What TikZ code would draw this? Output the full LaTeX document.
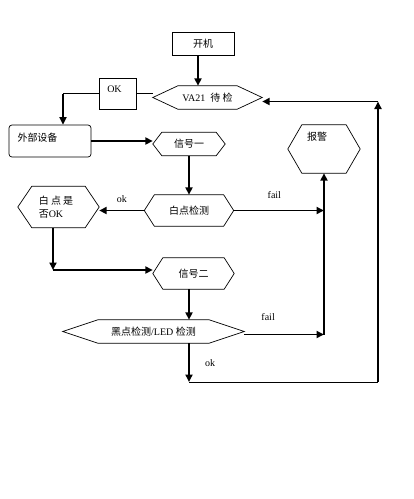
\documentclass[tikz,border=0pt]{standalone}
\usepackage{fontspec}
\setmainfont{Liberation Serif}
\newfontfamily\cjk{Noto Sans CJK SC}
\usetikzlibrary{arrows.meta}

% outline of a flat hexagon round a named node
\newcommand{\hexline}[2]{%
  \draw[edge] (#1.west) -- ([xshift=#2]#1.north west) -- ([xshift=-#2]#1.north east)
    -- (#1.east) -- ([xshift=-#2]#1.south east) -- ([xshift=#2]#1.south west) -- cycle;}

\begin{document}
\begin{tikzpicture}[x=1pt,y=-1pt,
    every node/.style={font=\fontsize{10}{13}\selectfont},
    edge/.style={line width=0.7pt},
    box/.style={draw, line width=0.7pt, inner sep=0pt},
    hex/.style={inner sep=0pt},
    flow/.style={line width=1.8pt, -{Triangle[length=7.5pt,width=7pt]}},
    link/.style={line width=0.7pt}]
                \useasboundingbox (0,0) rectangle (414,499);

                % Boxes
                \node[box, minimum width=62pt, minimum height=23pt] (on) at (203,43.5) {\cjk 开机};
                \node[box, minimum width=37pt, minimum height=31pt] (ok) at (117.5,93.5) {};
                \node (oktext) at (114.5,89) {OK};
                \node[box, rounded corners=3pt, minimum width=82pt, minimum height=32pt] (ext) at (50,141) {};
                \node (exttext) at (37.5,138) {\cjk 外部设备};

                % Hexagons
                \node[hex, minimum width=109pt, minimum height=23pt] (va) at (207.5,97.5) {VA21~~{\cjk 待 检}};
                \hexline{va}{25pt}
                \node[hex, minimum width=72pt, minimum height=23pt] (sig1) at (189,144) {\cjk 信号一};
                \hexline{sig1}{9pt}
                \node[hex, minimum width=72pt, minimum height=48pt] (alarm) at (324,149) {};
                \hexline{alarm}{14pt}
                \node (alarmtext) at (317,137) {\cjk 报警};
                \node[hex, minimum width=89pt, minimum height=31pt] (white) at (189,210.5) {\cjk 白点检测};
                \hexline{white}{10pt}
                \node[hex, minimum width=81pt, minimum height=41pt] (wok) at (58.5,207) {};
                \hexline{wok}{14pt}
                \node[align=left] (woktext) at (56,207.5) {{\cjk 白 点 是}\\{\cjk 否}OK};
                \node[hex, minimum width=81pt, minimum height=31pt] (sig2) at (193.5,273.5) {\cjk 信号二};
                \hexline{sig2}{10pt}
                \node[hex, minimum width=181pt, minimum height=23pt] (black) at (153.5,331.5) {{\cjk 黑点检测}/LED {\cjk 检测}};
                \hexline{black}{35pt}

                % Turning points
                \coordinate (okturn) at (63,93.5);
                \coordinate (wturn) at (53,270);
                \coordinate (loopa) at (189,382);
                \coordinate (loopb) at (378,382);
                \coordinate (loopc) at (378,101.5);

                % Connectors
                \draw[flow] ([xshift=-5pt]on.south) -- ([xshift=-5pt]on.south |- va.north);
                \draw[link] (ok.east) -- (ok.east -| va.west);
                \draw[link] (ok.west) -- (okturn);
                \draw[flow] (okturn) -- (okturn |- ext.north);
                \draw[flow] (ext.east) -- (ext.east -| sig1.west);
                \draw[flow] (sig1.south) -- (white.north);
                \draw[flow] (white.west) -- (white.west -| wok.east) node[pos=0.5, above=4pt] (okone) {ok};
                \draw[flow] (white.east) -- (white.east -| alarm.south) node[pos=0.45, above=8pt] (failone) {fail};
                \draw[flow] ([xshift=-5.5pt]wok.south) -- (wturn);
                \draw[flow] (wturn) -- (wturn -| sig2.west);
                \draw[flow] (sig2.south -| sig1.south) -- (black.north -| sig1.south);
                \draw[flow] ([yshift=-3pt]black.east) -- ([yshift=-3pt]black.east -| alarm.south) node[pos=0.3, above=10pt] (failtwo) {fail};
                \draw[flow] ([yshift=-3pt]black.east -| alarm.south) -- (alarm.south);
                \draw[flow] (black.south -| loopa) -- (loopa) node[pos=0.5, right=12pt] (oktwo) {ok};
                \draw[link] (loopa) -- (loopb);
                \draw[flow] (loopb) -- (loopc);
                \draw[flow] (loopc) -- (loopc -| va.east);
            \end{tikzpicture}
\end{document}
